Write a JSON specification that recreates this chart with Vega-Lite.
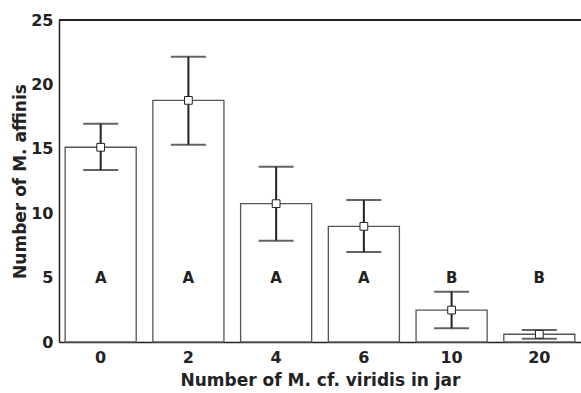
{
  "$schema": "https://vega.github.io/schema/vega-lite/v6.json",
  "width": 522,
  "height": 322,
  "autosize": "none",
  "padding": {"left": 59, "top": 20, "right": 0, "bottom": 51},
  "background": "white",
  "config": {
    "view": {"stroke": null},
    "font": "DejaVu Sans",
    "axis": {"grid": false, "ticks": false, "domainColor": "#222", "domainWidth": 1.5, "labelColor": "#222", "titleColor": "#222", "labelFont": "DejaVu Sans", "titleFont": "DejaVu Sans", "labelFontWeight": "bold", "titleFontWeight": "bold", "labelFontSize": 16, "titleFontSize": 17}
  },
  "data": {"values": [
    {"n": "0", "mean": 15.12, "lo": 13.35, "hi": 16.95, "grp": "A"},
    {"n": "2", "mean": 18.76, "lo": 15.32, "hi": 22.15, "grp": "A"},
    {"n": "4", "mean": 10.74, "lo": 7.87, "hi": 13.61, "grp": "A"},
    {"n": "6", "mean": 8.98, "lo": 6.99, "hi": 11.02, "grp": "A"},
    {"n": "10", "mean": 2.48, "lo": 1.06, "hi": 3.91, "grp": "B"},
    {"n": "20", "mean": 0.6, "lo": 0.26, "hi": 0.93, "grp": "B"}
  ]},
  "layer": [
    {"mark": {"type": "bar", "fill": "white", "stroke": "#555", "strokeWidth": 1.3},
     "encoding": {
       "x": {"field": "n", "type": "ordinal", "sort": null,
         "scale": {"paddingInner": 0.19, "paddingOuter": 0.07},
         "axis": {"title": "Number of M. cf. viridis in jar", "labelAngle": 0, "labelPadding": 7, "titlePadding": 7}},
       "y": {"field": "mean", "type": "quantitative",
       "scale": {"domain": [0, 25], "nice": false},
       "axis": {"title": "Number of M. affinis", "values": [0, 5, 10, 15, 20, 25], "labelPadding": 6, "titlePadding": 1}}}},
    {"mark": {"type": "rule", "color": "#222", "strokeWidth": 2},
     "encoding": {"x": {"field": "n", "type": "ordinal", "sort": null}, "y": {"field": "lo", "type": "quantitative"}, "y2": {"field": "hi"}}},
    {"mark": {"type": "tick", "color": "#222", "thickness": 2, "size": 35},
     "encoding": {"x": {"field": "n", "type": "ordinal", "sort": null}, "y": {"field": "lo", "type": "quantitative"}}},
    {"mark": {"type": "tick", "color": "#222", "thickness": 2, "size": 35},
     "encoding": {"x": {"field": "n", "type": "ordinal", "sort": null}, "y": {"field": "hi", "type": "quantitative"}}},
    {"mark": {"type": "point", "shape": "square", "filled": true, "fill": "white", "stroke": "#222", "strokeWidth": 1, "size": 60, "opacity": 1},
     "encoding": {"x": {"field": "n", "type": "ordinal", "sort": null}, "y": {"field": "mean", "type": "quantitative"}}},
    {"mark": {"type": "text", "fontWeight": "bold", "fontSize": 15, "color": "#222", "baseline": "middle", "font": "DejaVu Sans"},
     "encoding": {"x": {"field": "n", "type": "ordinal", "sort": null}, "y": {"datum": 5, "type": "quantitative"}, "text": {"field": "grp"}}},
    {"mark": {"type": "rule", "color": "#222", "strokeWidth": 1.5},
     "encoding": {"y": {"datum": 25, "type": "quantitative"}}}
  ]
}
